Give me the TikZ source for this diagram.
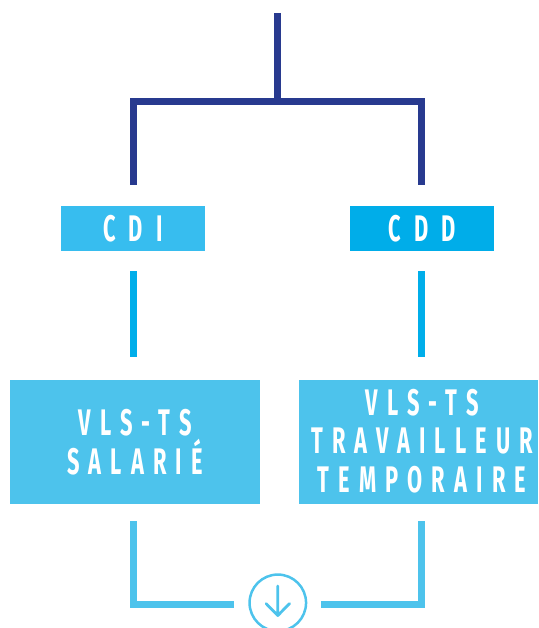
\documentclass[tikz,border=0pt]{standalone}
\usepackage{fontspec}
\newfontfamily\tagfont[FakeStretch=0.59,LetterSpace=35]{Fira Sans}
\newfontfamily\boxfont[FakeStretch=0.59,LetterSpace=24.6]{Fira Sans}
\definecolor{navy}{HTML}{283A8F}
\definecolor{cdiblue}{HTML}{37BDEF}
\definecolor{cddblue}{HTML}{00ADE9}
\definecolor{linkblue}{HTML}{00AEEA}
\definecolor{boxblue}{HTML}{4DC3EC}
\tikzset{
  tagbox/.style={rectangle, inner sep=0pt, minimum width=144, minimum height=45,
    text=white, font=\tagfont\bfseries\fontsize{37}{38.5}\selectfont},
  bigbox/.style={rectangle, fill=boxblue, inner sep=0pt, minimum height=124,
    text=white, align=center, font=\boxfont\bfseries\fontsize{37}{38.6}\selectfont},
  trunk/.style={draw=navy, line width=7, line join=miter},
  link/.style={draw=linkblue, line width=7},
  outlink/.style={draw=boxblue, line width=7, line join=miter},
}
\begin{document}
\begin{tikzpicture}[x=1pt, y=-1pt]
  \useasboundingbox (0,0) rectangle (538,628);

  % contract types
  \node[tagbox, fill=cdiblue] (cdi) at (133,228.5) {CDI};
  \node[tagbox, fill=cddblue] (cdd) at (422,228.5) {CDD};

  % resulting statuses
  \node[bigbox, minimum width=250] (sal) at (135,442) {VLS-TS\\SALARIÉ};
  \node[bigbox, minimum width=239] (tmp) at (418.5,442) {};
  \node[text=white, align=center, inner sep=0pt,
        font=\boxfont\bfseries\fontsize{37}{38.6}\selectfont]
        (tmptext) at (422,441) {VLS-TS\\TRAVAILLEUR\\TEMPORAIRE};

  % branching from the top
  \coordinate (root) at (277.7,13);
  \coordinate (fork) at (277.7,101.7);
  \coordinate (lend) at (133,185);
  \coordinate (rend) at (421,185);
  \draw[trunk] (root) -- (fork);
  \draw[trunk] (lend) |- (fork) -| (rend);

  % links between tags and statuses
  \coordinate (la) at (133.3,271);
  \coordinate (lb) at (133.3,357);
  \coordinate (ra) at (421.8,271);
  \coordinate (rb) at (421.8,357);
  \draw[link] (la) -- (lb);
  \draw[link] (ra) -- (rb);

  % merge into the download mark
  \node[circle, draw=boxblue, line width=2.5, minimum size=56.5, inner sep=0pt]
        (down) at (277.8,602.8) {};
  \draw[boxblue, line width=2.8, line cap=round, line join=round]
        (277.8,586) -- (277.8,615.5)
        (266,603.5) -- (277.8,615.5) -- (289.6,603.5);
  \coordinate (lt) at (133.5,521);
  \coordinate (rt) at (421.7,521);
  \coordinate (lm) at (234,604);
  \coordinate (rm) at (321,604);
  \draw[outlink] (lt) |- (lm);
  \draw[outlink] (rt) |- (rm);
\end{tikzpicture}
\end{document}
